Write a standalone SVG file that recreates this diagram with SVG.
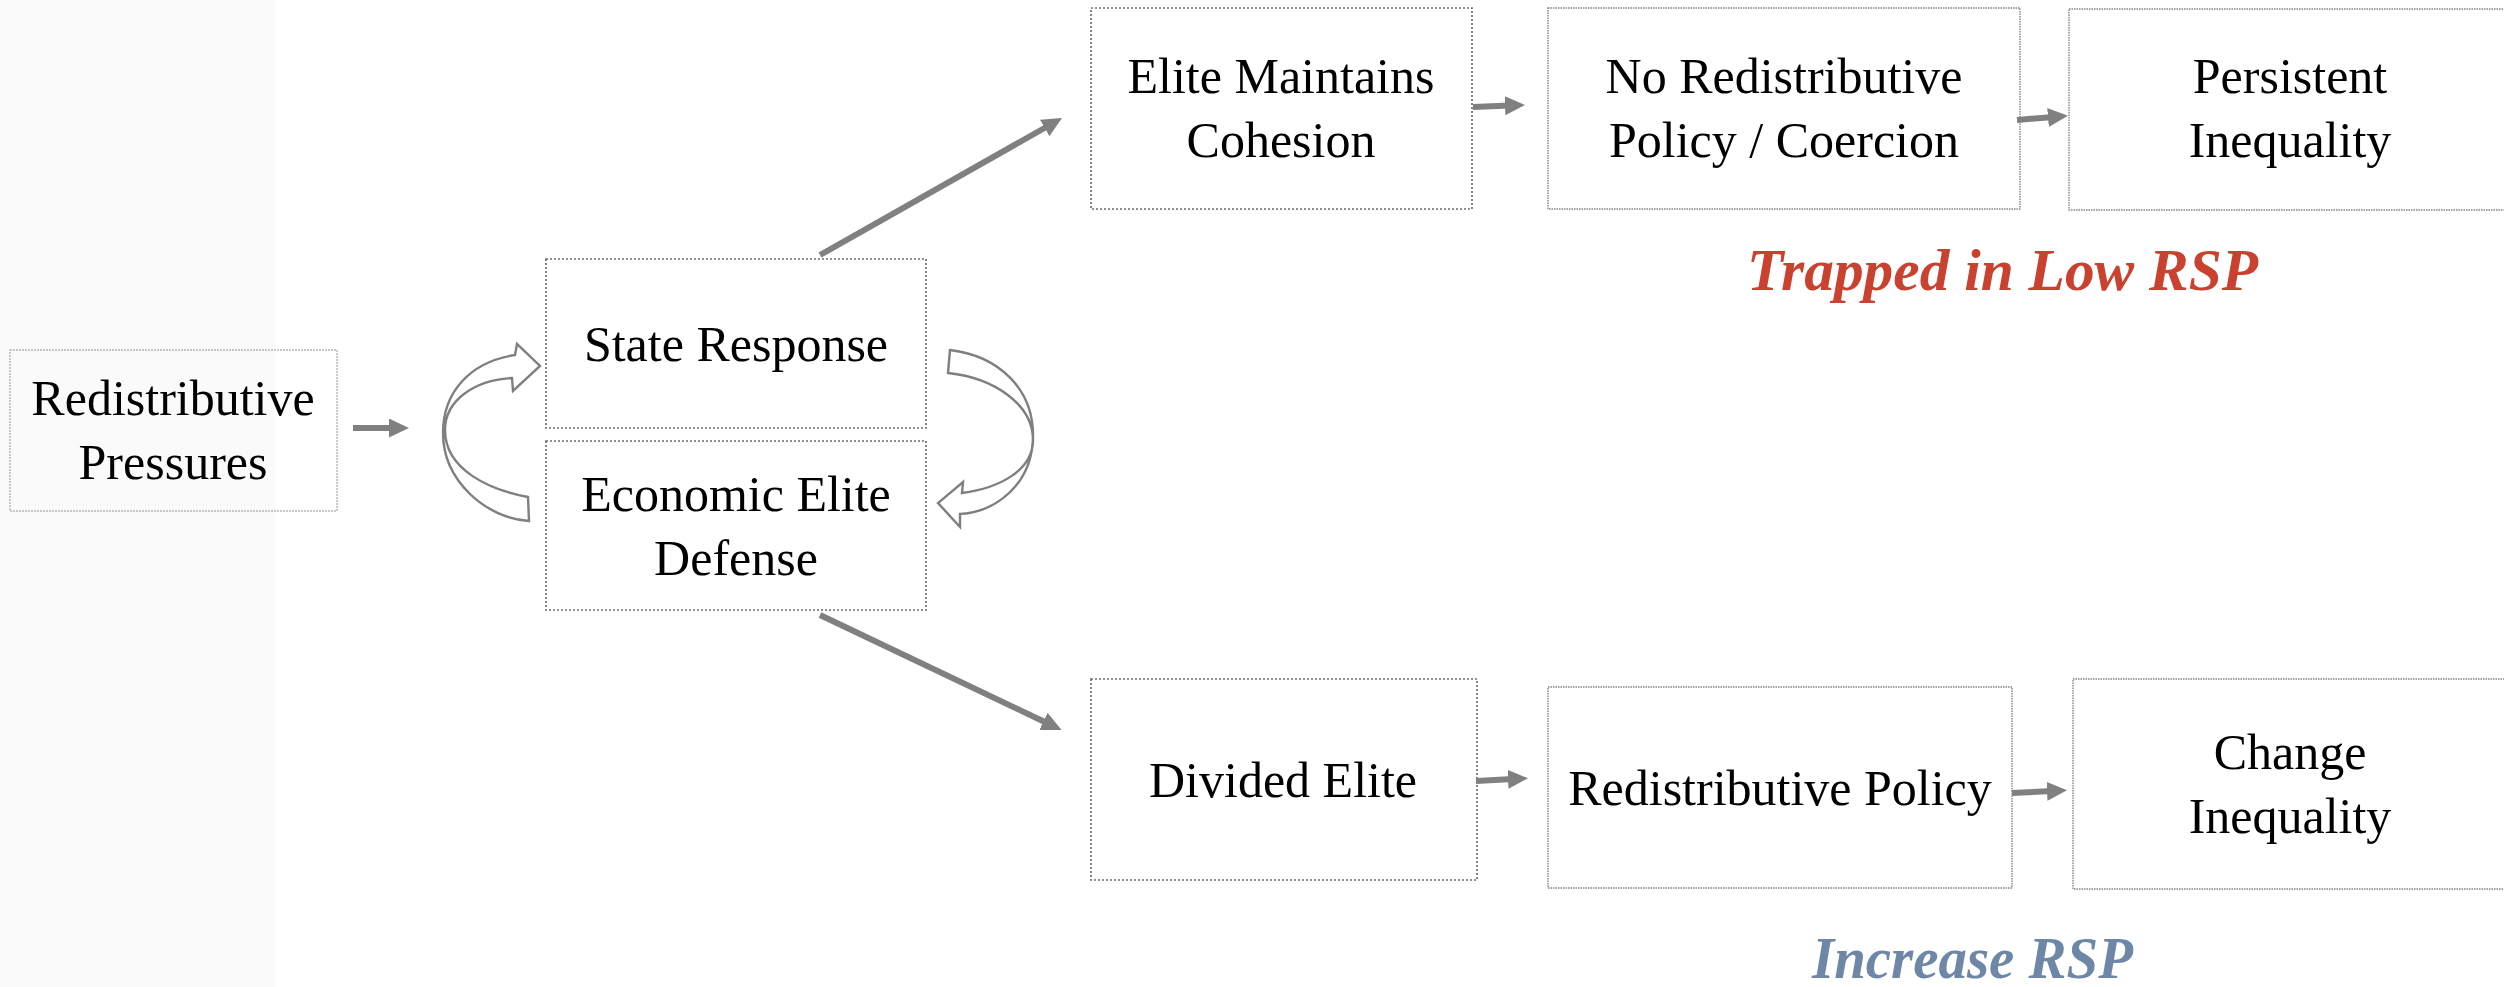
<svg xmlns="http://www.w3.org/2000/svg" width="2504" height="987" viewBox="0 0 2504 987">
  <defs>
    <style>
      .bg { fill: #ffffff; }
      .strip { fill: #fafafa; }
      .box { fill: none; stroke: #6e6e6e; stroke-width: 1.7; stroke-dasharray: 2 2; }
      .box-fine { fill: none; stroke: #858585; stroke-width: 1.4; stroke-dasharray: 1.5 1; }
      .box-light { fill: none; stroke: #b5b5b5; stroke-width: 1.4; stroke-dasharray: 2 1; }
      .lbl { font-family: "Liberation Serif", "Times New Roman", serif; font-size: 50px; fill: #000; text-anchor: middle; }
      .conn { fill: none; stroke: #808080; stroke-width: 6; marker-end: url(#head); }
      .loop { fill: #ffffff; stroke: #7f7f7f; stroke-width: 2.4; stroke-linejoin: miter; }
      .tag { font-family: "Liberation Serif", "Times New Roman", serif; font-size: 59px; font-style: italic; font-weight: bold; }
    </style>
    <marker id="head" markerUnits="userSpaceOnUse" markerWidth="20" markerHeight="19" viewBox="0 0 20 19" refX="5" refY="9.5" orient="auto">
      <path d="M0,0 L20,9.5 L0,19 Z" fill="#808080"/>
    </marker>
  </defs>

  <rect class="bg" x="0" y="0" width="2504" height="987"/>
  <rect class="strip" x="0" y="0" width="275" height="987"/>

  <g id="node-redistributive-pressures">
    <rect class="box-light" x="10" y="350" width="327" height="161"/>
    <text class="lbl" x="173" y="415">Redistributive</text>
    <text class="lbl" x="173" y="479">Pressures</text>
  </g>

  <g id="node-state-response">
    <rect class="box" x="546" y="259" width="380" height="169"/>
    <text class="lbl" x="736" y="361">State Response</text>
  </g>

  <g id="node-economic-elite-defense">
    <rect class="box" x="546" y="441" width="380" height="169"/>
    <text class="lbl" x="736" y="511">Economic Elite</text>
    <text class="lbl" x="736" y="575">Defense</text>
  </g>

  <g id="node-elite-maintains-cohesion">
    <rect class="box" x="1091" y="8" width="381" height="201"/>
    <text class="lbl" x="1281" y="93">Elite Maintains</text>
    <text class="lbl" x="1281" y="157">Cohesion</text>
  </g>

  <g id="node-no-redistributive-policy">
    <rect class="box-fine" x="1548" y="8" width="472" height="201"/>
    <text class="lbl" x="1784" y="93">No Redistributive</text>
    <text class="lbl" x="1784" y="157">Policy / Coercion</text>
  </g>

  <g id="node-persistent-inequality">
    <rect class="box-fine" x="2069" y="9" width="460" height="201"/>
    <text class="lbl" x="2290" y="93">Persistent</text>
    <text class="lbl" x="2290" y="157">Inequality</text>
  </g>

  <g id="node-divided-elite">
    <rect class="box" x="1091" y="679" width="386" height="201"/>
    <text class="lbl" x="1283" y="797">Divided Elite</text>
  </g>

  <g id="node-redistributive-policy">
    <rect class="box-fine" x="1548" y="687" width="464" height="201"/>
    <text class="lbl" x="1780" y="805">Redistributive Policy</text>
  </g>

  <g id="node-change-inequality">
    <rect class="box-fine" x="2073" y="679" width="460" height="210"/>
    <text class="lbl" x="2290" y="769">Change</text>
    <text class="lbl" x="2290" y="833">Inequality</text>
  </g>

  <g id="label-trapped">
    <text class="tag" x="1747" y="290" fill="#c9412f" textLength="511" lengthAdjust="spacingAndGlyphs">Trapped in Low RSP</text>
  </g>

  <g id="label-increase">
    <text class="tag" x="1812" y="978" fill="#6f87a6" textLength="321" lengthAdjust="spacingAndGlyphs">Increase RSP</text>
  </g>

  <g id="connectors">
    <line class="conn" x1="353" y1="428" x2="394" y2="428"/>
    <line class="conn" x1="820" y1="255" x2="1049" y2="125.5"/>
    <line class="conn" x1="820" y1="615" x2="1048" y2="723.5"/>
    <line class="conn" x1="1473" y1="107" x2="1510" y2="105.5"/>
    <line class="conn" x1="2017" y1="120" x2="2053" y2="117"/>
    <line class="conn" x1="1476" y1="781" x2="1513" y2="779"/>
    <line class="conn" x1="2012" y1="793" x2="2052" y2="791"/>
    <path class="loop" d="M528,497 C490,490 445,470 445,430 C445,400 475,380 512,378 L513,391 L540,366 L517,344 L515,355 C470,362 443,392 443,433 C443,480 485,518 529,521 Z"/>
    <path class="loop" d="M950,350 C1000,356 1033,390 1033,435 C1033,485 995,512 960,514 L960,527 L938,503 L963,482 L962,493 C1000,488 1033,470 1033,440 C1033,405 995,378 948,373 Z"/>
  </g>
</svg>
